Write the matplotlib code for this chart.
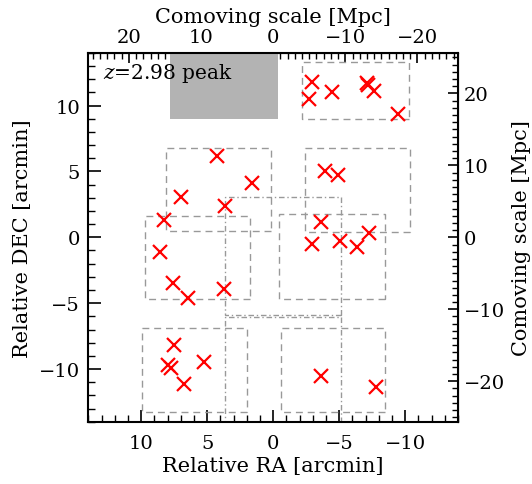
import numpy as np
import matplotlib.pyplot as plt
from matplotlib.patches import Rectangle
from matplotlib.ticker import MultipleLocator

plt.rcParams['font.family'] = 'DejaVu Serif'
plt.rcParams['mathtext.fontset'] = 'dejavuserif'

# Mpc per arcmin at z=2.98
mpc_per_arcmin = 1.83

# source positions (RA, DEC in arcmin)
ra = [4.28, 1.58, 7.01, 3.65,
      -2.96, -2.71, -4.43, -7.08, -7.20, -7.64, -9.48,
      -3.92, -4.93,
      8.27, 8.58, 7.61, 6.48, 3.73,
      -3.60, -2.96, -5.06, -6.33, -7.26,
      7.49, 7.99, 7.75, 5.22, 6.73,
      -3.62, -7.79]
dec = [6.18, 4.11, 3.03, 2.40,
       11.82, 10.53, 11.06, 11.74, 11.54, 11.11, 9.39,
       5.00, 4.74,
       1.31, -1.14, -3.48, -4.62, -3.92,
       1.18, -0.51, -0.26, -0.71, 0.33,
       -8.14, -9.67, -9.92, -9.47, -11.17,
       -10.56, -11.36]

# dashed fields: (ra_left, ra_right, dec_top, dec_bottom)
fields = [(-2.20, -10.31, 13.33, 9.02),
          (8.12, 0.17, 6.82, 0.45),
          (-2.41, -10.36, 6.82, 0.38),
          (9.71, 1.76, 1.64, -4.67),
          (-0.46, -8.47, 1.77, -4.67),
          (9.94, 2.02, -6.87, -13.25),
          (-0.60, -8.48, -6.89, -13.29)]

# dash-dot fields
fields2 = [(3.62, -5.10, 3.03, -5.92),
           (3.62, -5.10, -6.02, -15.0)]

# peak region
peak_box = (7.80, -0.35, 14.5, 8.96)

fig = plt.figure(figsize=(5.32, 4.85), dpi=100)
ax = fig.add_axes([0.166, 0.1285, 0.695, 0.7602])

x0, x1, y0, y1 = peak_box
ax.add_patch(Rectangle((x1, y1), x0 - x1, y0 - y1, facecolor='#b3b3b3',
                       edgecolor='none', zorder=1))

for l, r, t, b in fields:
    ax.add_patch(Rectangle((r, b), l - r, t - b, fill=False, edgecolor='#999999',
                           lw=1.0, ls=(0, (5, 3.5)), zorder=2))
for l, r, t, b in fields2:
    ax.add_patch(Rectangle((r, b), l - r, t - b, fill=False, edgecolor='#999999',
                           lw=1.0, ls=(0, (4, 2, 1, 2)), zorder=2))

ax.plot(ra, dec, 'x', color='red', ms=10, mew=1.6, zorder=3)

ax.text(12.9, 12.5, r'$z$=2.98 peak', fontsize=14.5, va='center', ha='left')

ax.set_xlim(14, -14)
ax.set_ylim(-14, 14)
ax.set_xticks([10, 5, 0, -5, -10])
ax.set_yticks([-10, -5, 0, 5, 10])
ax.xaxis.set_minor_locator(MultipleLocator(1))
ax.yaxis.set_minor_locator(MultipleLocator(1))
ax.tick_params(which='both', direction='in', labelsize=14)
ax.tick_params(which='major', length=9, width=1.2)
ax.tick_params(which='minor', length=5, width=1.0)
ax.tick_params(axis='x', pad=9)
ax.tick_params(axis='y', pad=6)
for s in ax.spines.values():
    s.set_linewidth(1.5)
ax.set_xlabel('Relative RA [arcmin]', fontsize=15, labelpad=3)
ax.set_ylabel('Relative DEC [arcmin]', fontsize=15, labelpad=5)

fwd = lambda v: v * mpc_per_arcmin
inv = lambda v: v / mpc_per_arcmin

top = ax.secondary_xaxis('top', functions=(fwd, inv))
top.set_xticks([20, 10, 0, -10, -20])
top.xaxis.set_minor_locator(MultipleLocator(1))
top.tick_params(which='both', direction='in', labelsize=14, pad=5)
top.tick_params(which='major', length=7, width=1.2)
top.tick_params(which='minor', length=4, width=1.0)
top.set_xlabel('Comoving scale [Mpc]', fontsize=15, labelpad=4)

right = ax.secondary_yaxis('right', functions=(fwd, inv))
right.set_yticks([-20, -10, 0, 10, 20])
right.yaxis.set_minor_locator(MultipleLocator(1))
right.tick_params(which='both', direction='in', labelsize=14, pad=4)
right.tick_params(which='major', length=7, width=1.2)
right.tick_params(which='minor', length=4, width=1.0)
right.set_ylabel('Comoving scale [Mpc]', fontsize=15, labelpad=5)

plt.savefig('out.png', dpi=100)
